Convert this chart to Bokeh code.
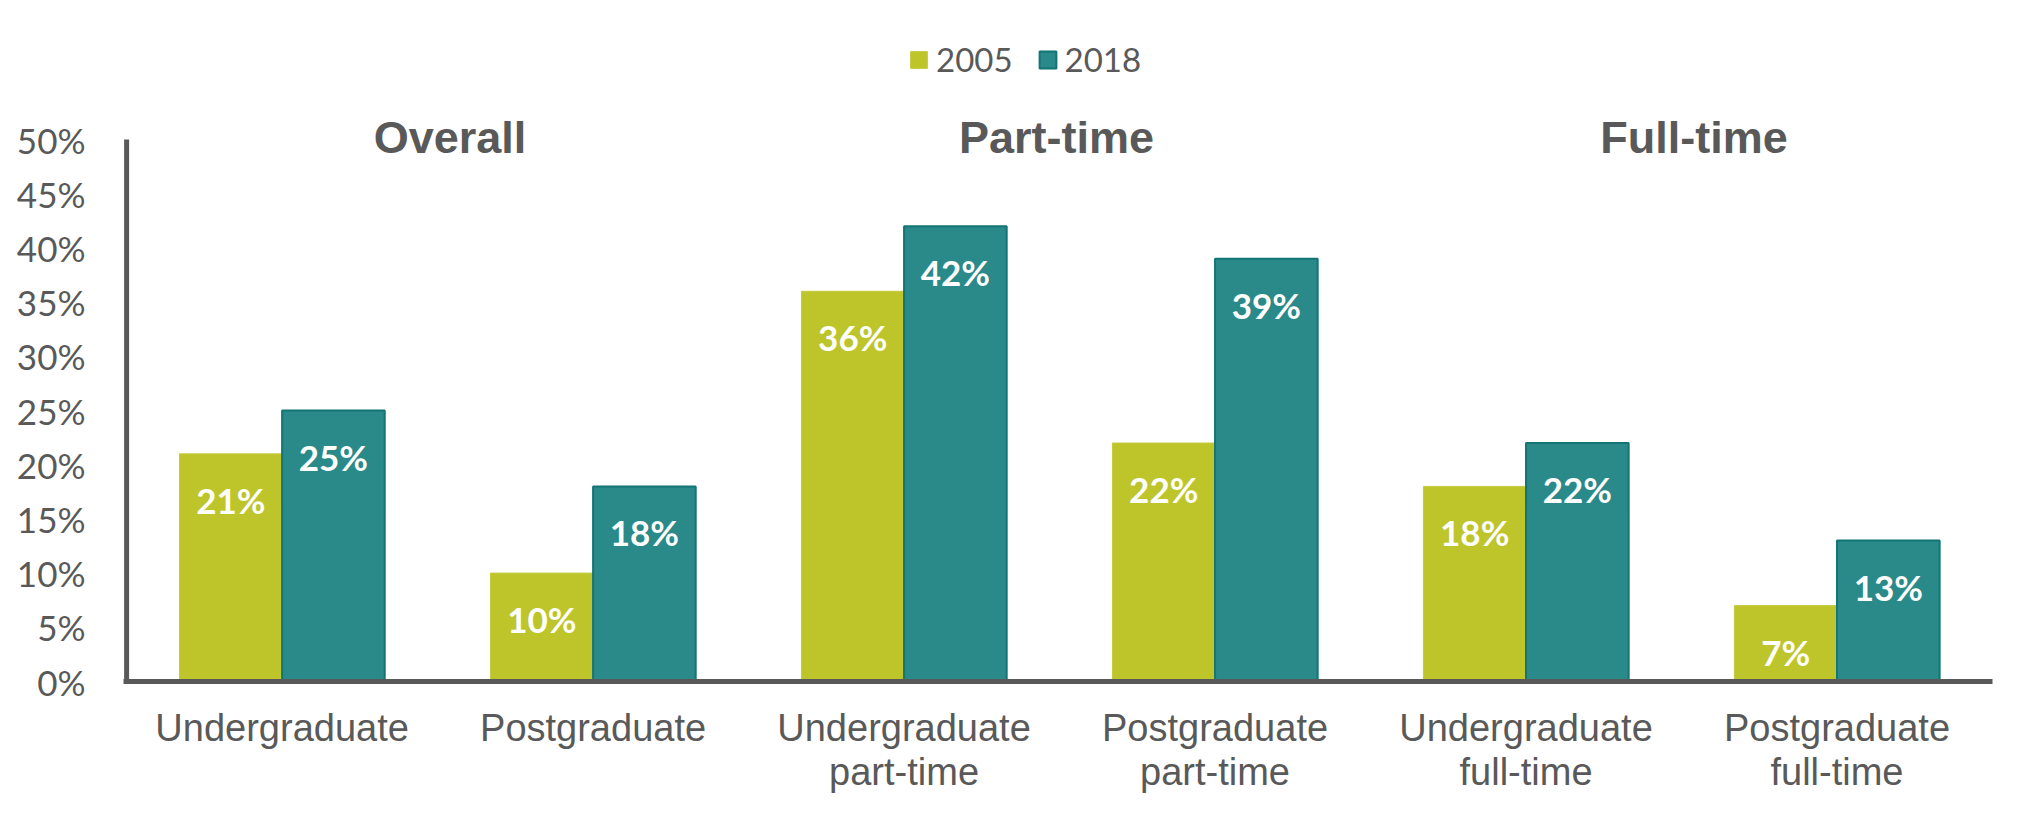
from bokeh.plotting import figure
from bokeh.models import (ColumnDataSource, Range1d, FixedTicker, PrintfTickFormatter,
                          LabelSet, Legend, LegendItem)
from bokeh.core.properties import value
from bokeh.embed import file_html
from bokeh.resources import INLINE

# data
categories = ["Undergraduate", "Postgraduate", "Undergraduate\npart-time",
              "Postgraduate\npart-time", "Undergraduate\nfull-time", "Postgraduate\nfull-time"]
v2005 = [21, 10, 36, 22, 18, 7]
v2018 = [25, 18, 42, 39, 22, 13]
groups = ["Overall", "Part-time", "Full-time"]
group_pos = [1.04, 2.99, 5.04]
y_ticks = [0, 5, 10, 15, 20, 25, 30, 35, 40, 45, 50]

GREY = "#595959"
C2005 = "#BEC52A"
C2018 = "#2A8989"

xs = [i + 0.5 for i in range(len(categories))]
src = ColumnDataSource(dict(
    x05=[x - 0.165 for x in xs], x18=[x + 0.165 for x in xs],
    v05=v2005, v18=v2018,
    t05=[f"{v}%" for v in v2005], t18=[f"{v}%" for v in v2018],
))
gsrc = ColumnDataSource(dict(x=group_pos, y=[50.2] * 3, t=groups))

# the frame reaches above 50% so the legend and group titles sit inside it
p = figure(width=2024, height=803, output_backend="svg", toolbar_location=None,
           x_range=Range1d(-0.01, 6), y_range=Range1d(0, 60.98),
           min_border_left=123, min_border_right=32, min_border_top=20, min_border_bottom=122)
p.title.visible = False
p.outline_line_color = None
p.xgrid.visible = False
p.ygrid.visible = False

r05 = p.vbar(x="x05", top="v05", width=0.33, source=src, fill_color=C2005, line_color="#C4CB3C", line_width=1)
r18 = p.vbar(x="x18", top="v18", width=0.33, source=src, fill_color=C2018, line_color="#137575", line_width=2)

# y axis line, only up to 50%
p.segment(x0=[0], y0=[0], x1=[0], y1=[max(y_ticks)], line_color=GREY, line_width=5)

# data labels
for xcol, ycol, tcol in [("x05", "v05", "t05"), ("x18", "v18", "t18")]:
    p.add_layout(LabelSet(x=xcol, y=ycol, text=tcol, source=src, y_offset=-46,
                          text_align="center", text_baseline="middle", text_color="white",
                          text_font=value("Lato"), text_font_style="bold", text_font_size="35px"))

# group titles
p.add_layout(LabelSet(x="x", y="y", text="t", source=gsrc,
                      text_align="center", text_baseline="middle", text_color=GREY,
                      text_font=value("Liberation Sans"), text_font_style="bold",
                      text_font_size="45px"))

# axes
xa = p.xaxis[0]
xa.ticker = FixedTicker(ticks=xs)
xa.major_label_overrides = {x: c for x, c in zip(xs, categories)}
xa.major_tick_line_color = None
xa.minor_tick_line_color = None
xa.axis_line_color = GREY
xa.axis_line_width = 5
xa.major_label_text_font = "Liberation Sans"
xa.major_label_text_font_size = "38px"
xa.major_label_text_line_height = 1.05
xa.major_label_text_color = GREY
xa.major_label_standoff = 19

ya = p.yaxis[0]
ya.ticker = FixedTicker(ticks=y_ticks)
ya.formatter = PrintfTickFormatter(format="%d%%")
ya.major_tick_line_color = None
ya.minor_tick_line_color = None
ya.axis_line_color = None
ya.major_label_text_font = "Lato"
ya.major_label_text_font_size = "35px"
ya.major_label_text_color = GREY
ya.major_label_standoff = 32

legend = Legend(items=[LegendItem(label="2005", renderers=[r05]),
                       LegendItem(label="2018", renderers=[r18])],
                orientation="horizontal", location=(785, 602),
                glyph_width=21, glyph_height=21, label_standoff=7,
                spacing=24, padding=0, margin=0, border_line_color=None,
                background_fill_alpha=0, label_text_font="Lato",
                label_text_font_size="33px", label_text_color=GREY)
p.add_layout(legend, "center")

open("out.html", "w").write(file_html(p, INLINE))
